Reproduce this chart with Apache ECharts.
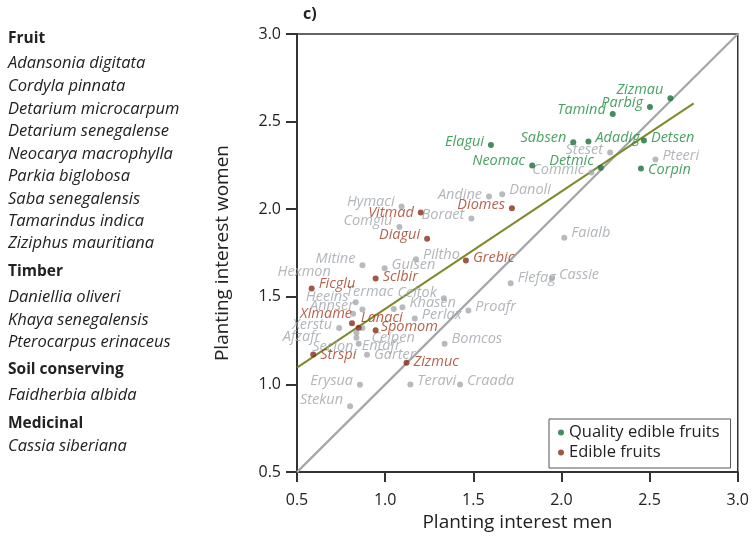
<!DOCTYPE html>
<html><head><meta charset="utf-8">
<script src="https://cdn.jsdelivr.net/npm/echarts@6/dist/echarts.min.js"></script>
<style>html,body{margin:0;padding:0;background:#fff}#c{width:752px;height:537px}</style>
</head><body><div id="c"></div>
<script>
// ---- data ----
var greenNames = ['Zizmau','Parbig','Tamind','Elagui','Sabsen','Adadig','Detsen','Neomac','Detmic','Corpin'];
var greenX = [2.618,2.502,2.291,1.600,2.067,2.153,2.468,1.834,2.223,2.451];
var greenY = [2.633,2.584,2.544,2.367,2.382,2.386,2.392,2.250,2.237,2.233];

var redNames = ['Vitmad','Diomes','Diagui','Grebic','Sclbir','Ficglu','Ximame','Lanaci','Spomom','Strspi','Zizmuc'];
var redX = [1.202,1.719,1.238,1.458,0.946,0.583,0.812,0.850,0.946,0.592,1.121];
var redY = [1.981,2.006,1.831,1.708,1.605,1.548,1.350,1.324,1.309,1.171,1.124];

var greyNames = ['Steset','Pteeri','Commic','Andine','Danoli','Hymaci','Comglu','Boraet','Piltho','Mitine','Guisen',
  'Faialb','Cassie','Flefag','Proafr','Bomcos','Craada','Teravi','Erysua','Stekun','Celtok','Khasen','Perlax',
  'Termac','Heeins','Annser','Hexmon','Xerstu','Afzafr','Seclon','Ceipen','Entafr','Garter'];
var greyX = [2.276,2.533,2.170,1.589,1.664,1.093,1.081,1.489,1.175,0.871,0.997,
  2.016,1.946,1.712,1.472,1.337,1.425,1.143,0.857,0.801,1.333,1.098,1.168,
  0.833,0.871,0.818,1.049,0.739,0.871,0.837,0.837,0.850,0.897];
var greyY = [2.324,2.284,2.209,2.072,2.085,2.015,1.898,1.947,1.714,1.680,1.663,
  1.838,1.606,1.578,1.422,1.233,1.000,1.000,0.998,0.876,1.492,1.441,1.377,
  1.469,1.428,1.403,1.431,1.322,1.322,1.295,1.267,1.233,1.169];

var identityLine = [[0.5,0.5],[3.0,3.0]];
var regressionLine = [[0.5,1.096],[2.75,2.604]];

var xTicks = [0.5,1.0,1.5,2.0,2.5,3.0];
var yTicks = [0.5,1.0,1.5,2.0,2.5,3.0];

var legendNames = ['Quality edible fruits','Edible fruits'];

var sideText = [
  ['Fruit','b'],['Adansonia digitata','i'],['Cordyla pinnata','i'],['Detarium microcarpum','i'],['Detarium senegalense','i'],
  ['Neocarya macrophylla','i'],['Parkia biglobosa','i'],['Saba senegalensis','i'],['Tamarindus indica','i'],['Ziziphus mauritiana','i'],
  ['Timber','b'],['Daniellia oliveri','i'],['Khaya senegalensis','i'],['Pterocarpus erinaceus','i'],
  ['Soil conserving','b'],['Faidherbia albida','i'],
  ['Medicinal','b'],['Cassia siberiana','i']
];

// ---- label placement (style) : [side, dx, dy] ----
var place = {
  Zizmau:['left',0,-8], Parbig:['left',0,-4], Tamind:['left',0,-4], Elagui:['left',0,-3], Sabsen:['left',0,-4],
  Adadig:['right',0,-4], Detsen:['right',0,-3], Neomac:['left',0,-5], Detmic:['left',0,-7], Corpin:['right',0,1],
  Vitmad:['left',0,0], Diomes:['left',0,-3], Diagui:['left',0,-4], Grebic:['right',0,-3], Sclbir:['right',0,-2],
  Ficglu:['right',0,-5], Ximame:['left',7,-9], Lanaci:['right',-5,-10], Spomom:['right',-2,-3], Strspi:['right',0,0], Zizmuc:['right',0,-1],
  Steset:['left',0,-3], Pteeri:['right',0,-4], Commic:['left',0,-3], Andine:['left',0,-2], Danoli:['right',0,-4],
  Hymaci:['left',0,-5], Comglu:['left',0,-6], Boraet:['left',0,-4], Piltho:['right',0,-4], Mitine:['left',0,-6], Guisen:['right',0,-3],
  Faialb:['right',0,-5], Cassie:['right',0,-3], Flefag:['right',0,-5], Proafr:['right',0,-4], Bomcos:['right',0,-5],
  Craada:['right',0,-4], Teravi:['right',0,-4], Erysua:['left',0,-4], Stekun:['left',0,-6], Celtok:['left',0,-5],
  Khasen:['right',0,-4], Perlax:['right',0,-4], Termac:['right',-17,-10], Heeins:['left',-7,-13], Annser:['left',8,-8],
  Hexmon:['left',-56,-37], Xerstu:['left',0,-3], Afzafr:['left',-35,9], Seclon:['left',4,14], Ceipen:['right',8,0],
  Entafr:['right',-4,2], Garter:['right',0,0]
};

var FONT = 'Open Sans';
var GREEN_TXT = '#1c8a3b', GREEN_DOT = '#17703a';
var RED_TXT = '#a3391f', RED_DOT = '#8a2d18';
var GREY_TXT = '#9fa4a9', GREY_DOT = '#a5aaaf';

function build(names, xs, ys) {
  return names.map(function (n, i) {
    var p = place[n] || ['right',0,0];
    return { name: n, value: [xs[i], ys[i]], label: { position: p[0], offset: [p[1], p[2]] } };
  });
}

var graphics = [{
  type: 'text', x: 303, y: 14,
  style: { text: 'c)', font: 'bold 16px ' + FONT, fill: '#222', verticalAlign: 'middle' }
}];
var yPos = [39,63,86.5,109,131.5,154,176,199,221,243,271.5,297,320,342,370,395.5,424,446.5];
sideText.forEach(function (t, i) {
  graphics.push({
    type: 'text', x: 8, y: yPos[i],
    style: { text: t[0], font: (t[1] === 'b' ? 'bold 15.5px ' : 'italic 16.5px ') + FONT, fill: '#222', verticalAlign: 'middle' }
  });
});

var chart = echarts.init(document.getElementById('c'), null, { renderer: 'canvas' });
chart.setOption({
  animation: false,
  textStyle: { fontFamily: FONT },
  grid: { left: 297, right: 12, top: 34, bottom: 60.5, show: true, borderColor: '#333', borderWidth: 1.5 },
  graphic: graphics,
  legend: {
    data: legendNames, left: 549, top: 419, orient: 'vertical', icon: 'circle',
    itemWidth: 6, itemHeight: 6, itemGap: 3, padding: [5, 11, 7, 9],
    borderColor: '#555', borderWidth: 1, backgroundColor: '#fff',
    textStyle: { fontSize: 16.5, color: '#222', fontFamily: FONT }
  },
  xAxis: {
    type: 'value', min: 0.5, max: 3.0, interval: 0.5,
    name: 'Planting interest men', nameLocation: 'middle', nameGap: 35,
    nameTextStyle: { fontSize: 19, color: '#222' },
    axisLine: { show: true, lineStyle: { color: '#333', width: 2 } },
    axisTick: { show: true, inside: false, length: 10, lineStyle: { color: '#333', width: 2 } },
    axisLabel: { fontSize: 16, color: '#222', margin: 20, formatter: function (v) { return v.toFixed(1); } },
    splitLine: { show: false }
  },
  yAxis: {
    type: 'value', min: 0.5, max: 3.0, interval: 0.5,
    name: 'Planting interest women', nameLocation: 'middle', nameGap: 65,
    nameTextStyle: { fontSize: 19, color: '#222' },
    axisLine: { show: true, lineStyle: { color: '#333', width: 2 } },
    axisTick: { show: true, inside: false, length: 11, lineStyle: { color: '#333', width: 2 } },
    axisLabel: { fontSize: 16, color: '#222', margin: 16, formatter: function (v) { return v.toFixed(1); } },
    splitLine: { show: false }
  },
  series: [
    { type: 'line', data: identityLine, symbol: 'none', silent: true, z: 1,
      lineStyle: { color: '#a3a6a9', width: 2.2 } },
    { type: 'line', data: regressionLine, symbol: 'none', silent: true, z: 1,
      lineStyle: { color: '#7d8a2a', width: 2 } },
    { name: 'grey', type: 'scatter', data: build(greyNames, greyX, greyY), symbolSize: 6, z: 2,
      itemStyle: { color: GREY_DOT },
      label: { show: true, formatter: '{b}', distance: 4, fontSize: 14.5, fontStyle: 'italic', color: GREY_TXT, fontFamily: FONT } },
    { name: 'Edible fruits', type: 'scatter', data: build(redNames, redX, redY), symbolSize: 6, z: 3,
      itemStyle: { color: RED_DOT },
      label: { show: true, formatter: '{b}', distance: 4, fontSize: 14.5, fontStyle: 'italic', color: RED_TXT, fontFamily: FONT } },
    { name: 'Quality edible fruits', type: 'scatter', data: build(greenNames, greenX, greenY), symbolSize: 6, z: 3,
      itemStyle: { color: GREEN_DOT },
      label: { show: true, formatter: '{b}', distance: 4, fontSize: 14.5, fontStyle: 'italic', color: GREEN_TXT, fontFamily: FONT } }
  ]
});
</script></body></html>
